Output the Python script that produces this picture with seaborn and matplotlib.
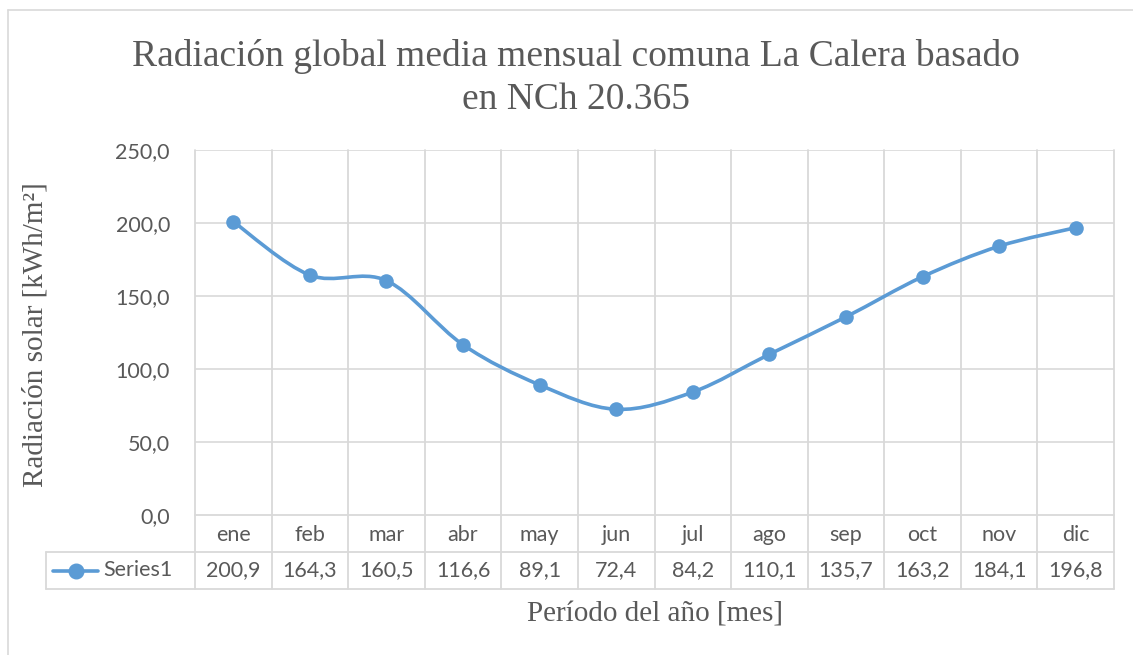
import numpy as np
import matplotlib
matplotlib.use("Agg")
import matplotlib.pyplot as plt
from matplotlib.path import Path
from matplotlib.patches import PathPatch
from matplotlib.lines import Line2D
import matplotlib.transforms as mtransforms
import seaborn as sns
import pandas as pd

# ---- data ----
months = ["ene", "feb", "mar", "abr", "may", "jun", "jul", "ago", "sep", "oct", "nov", "dic"]
values = [200.9, 164.3, 160.5, 116.6, 89.1, 72.4, 84.2, 110.1, 135.7, 163.2, 184.1, 196.8]
series_name = "Series1"
y_ticks = [0, 50, 100, 150, 200, 250]
title = "Radiación global media mensual comuna La Calera basado\nen NCh 20.365"
y_label = "Radiación solar [kWh/m²]"
x_label = "Período del año [mes]"

sns.set_theme(style="white")
plt.rcParams['font.family'] = ['Lato', 'DejaVu Sans']

W, H = 1133, 655
fig = plt.figure(figsize=(W / 100, H / 100), dpi=100)

BLUE = "#5B9BD5"
GRID = "#D9D9D9"
TXT = "#595959"

L, R, T, B = 195, 1114, 150, 515
ax = fig.add_axes([L / W, 1 - B / H, (R - L) / W, (B - T) / H])
n = len(months)
ax.set_xlim(-0.5, n - 0.5)
ax.set_ylim(0, 250)

df = pd.DataFrame({"mes": np.arange(n), "valor": values})

# smoothed line (Excel-like bezier through the points)
x = np.arange(n, dtype=float)
y = np.array(values, dtype=float)
verts = [(x[0], y[0])]
codes = [Path.MOVETO]
for i in range(n - 1):
    p0 = (x[max(i - 1, 0)], y[max(i - 1, 0)])
    p1 = (x[i], y[i])
    p2 = (x[i + 1], y[i + 1])
    p3 = (x[min(i + 2, n - 1)], y[min(i + 2, n - 1)])
    c1 = (p1[0] + (p2[0] - p0[0]) / 6, p1[1] + (p2[1] - p0[1]) / 6)
    c2 = (p2[0] - (p3[0] - p1[0]) / 6, p2[1] - (p3[1] - p1[1]) / 6)
    verts += [c1, c2, p2]
    codes += [Path.CURVE4] * 3
ax.add_patch(PathPatch(Path(verts, codes), facecolor="none", edgecolor=BLUE,
                       lw=2.6, capstyle="round", joinstyle="round", zorder=3))

sns.scatterplot(data=df, x="mes", y="valor", ax=ax, color=BLUE, s=110,
                edgecolor=BLUE, linewidth=0, zorder=4, legend=False)

# grid
ax.set_yticks(y_ticks)
ax.set_yticklabels([f"{v:.1f}".replace(".", ",") for v in y_ticks],
                   color=TXT, fontsize=15.5)
ax.tick_params(axis="y", length=0, pad=18)
ax.set_xticks([])
ax.set_xlabel("")
ax.set_ylabel("")
for v in y_ticks[1:]:
    ax.axhline(v, color=GRID, lw=1.2, zorder=1)
for s in ax.spines.values():
    s.set_visible(False)

# data table under the axis
row_h = 37 / (B - T)
trans = mtransforms.blended_transform_factory(ax.transData, ax.transAxes)
line_kw = dict(color=GRID, lw=1.3, clip_on=False, zorder=2)
# vertical category boundaries
for k in range(n + 1):
    xb = -0.5 + k
    ax.add_line(Line2D([xb, xb], [1, -2 * row_h], transform=trans, **line_kw))
# horizontals
ax.add_line(Line2D([-0.5, n - 0.5], [0, 0], transform=trans, **line_kw))
left_tab = (46 - L) / (R - L)
ax.add_line(Line2D([left_tab, 1], [-row_h, -row_h], transform=ax.transAxes, **line_kw))
ax.add_line(Line2D([left_tab, 1], [-2 * row_h, -2 * row_h], transform=ax.transAxes, **line_kw))
ax.add_line(Line2D([left_tab, left_tab], [-row_h, -2 * row_h], transform=ax.transAxes, **line_kw))

for i, (m, v) in enumerate(zip(months, values)):
    ax.text(i, -0.55 * row_h, m, transform=trans, ha="center", va="center",
            color=TXT, fontsize=15.5)
    ax.text(i, -1.5 * row_h, f"{v:.1f}".replace(".", ","), transform=trans,
            ha="center", va="center", color=TXT, fontsize=15.5)

# legend key in table
lx0 = (53 - L) / (R - L)
lx1 = (98 - L) / (R - L)
ax.add_line(Line2D([lx0, lx1], [-1.5 * row_h] * 2, transform=ax.transAxes,
                   color=BLUE, lw=2.6, clip_on=False))
ax.add_line(Line2D([(76 - L) / (R - L)], [-1.5 * row_h], transform=ax.transAxes,
                   marker="o", markersize=10.5, color=BLUE, clip_on=False))
ax.text((103 - L) / (R - L), -1.5 * row_h, series_name, transform=ax.transAxes,
        ha="left", va="center", color=TXT, fontsize=15.5)

# titles
serif = ['Liberation Serif', 'DejaVu Serif']
fig.text(576 / W, 1 - 78 / H, title, ha="center", va="center", family=serif,
         fontsize=27, color=TXT, linespacing=1.3)
fig.text(36 / W, 1 - 335 / H, y_label, rotation=90, ha="center", va="center",
         family=serif, fontsize=21, color=TXT)
fig.text(655 / W, 1 - 614 / H, x_label, ha="center", va="center",
         family=serif, fontsize=21, color=TXT)

# chart frame
fig.add_artist(Line2D([8 / W, 1], [1 - 10 / H] * 2, transform=fig.transFigure,
                      color="#D9D9D9", lw=1.2))
fig.add_artist(Line2D([8 / W, 8 / W], [0, 1 - 10 / H], transform=fig.transFigure,
                      color="#D9D9D9", lw=1.2))

fig.savefig("out.png", dpi=100, facecolor="white")
